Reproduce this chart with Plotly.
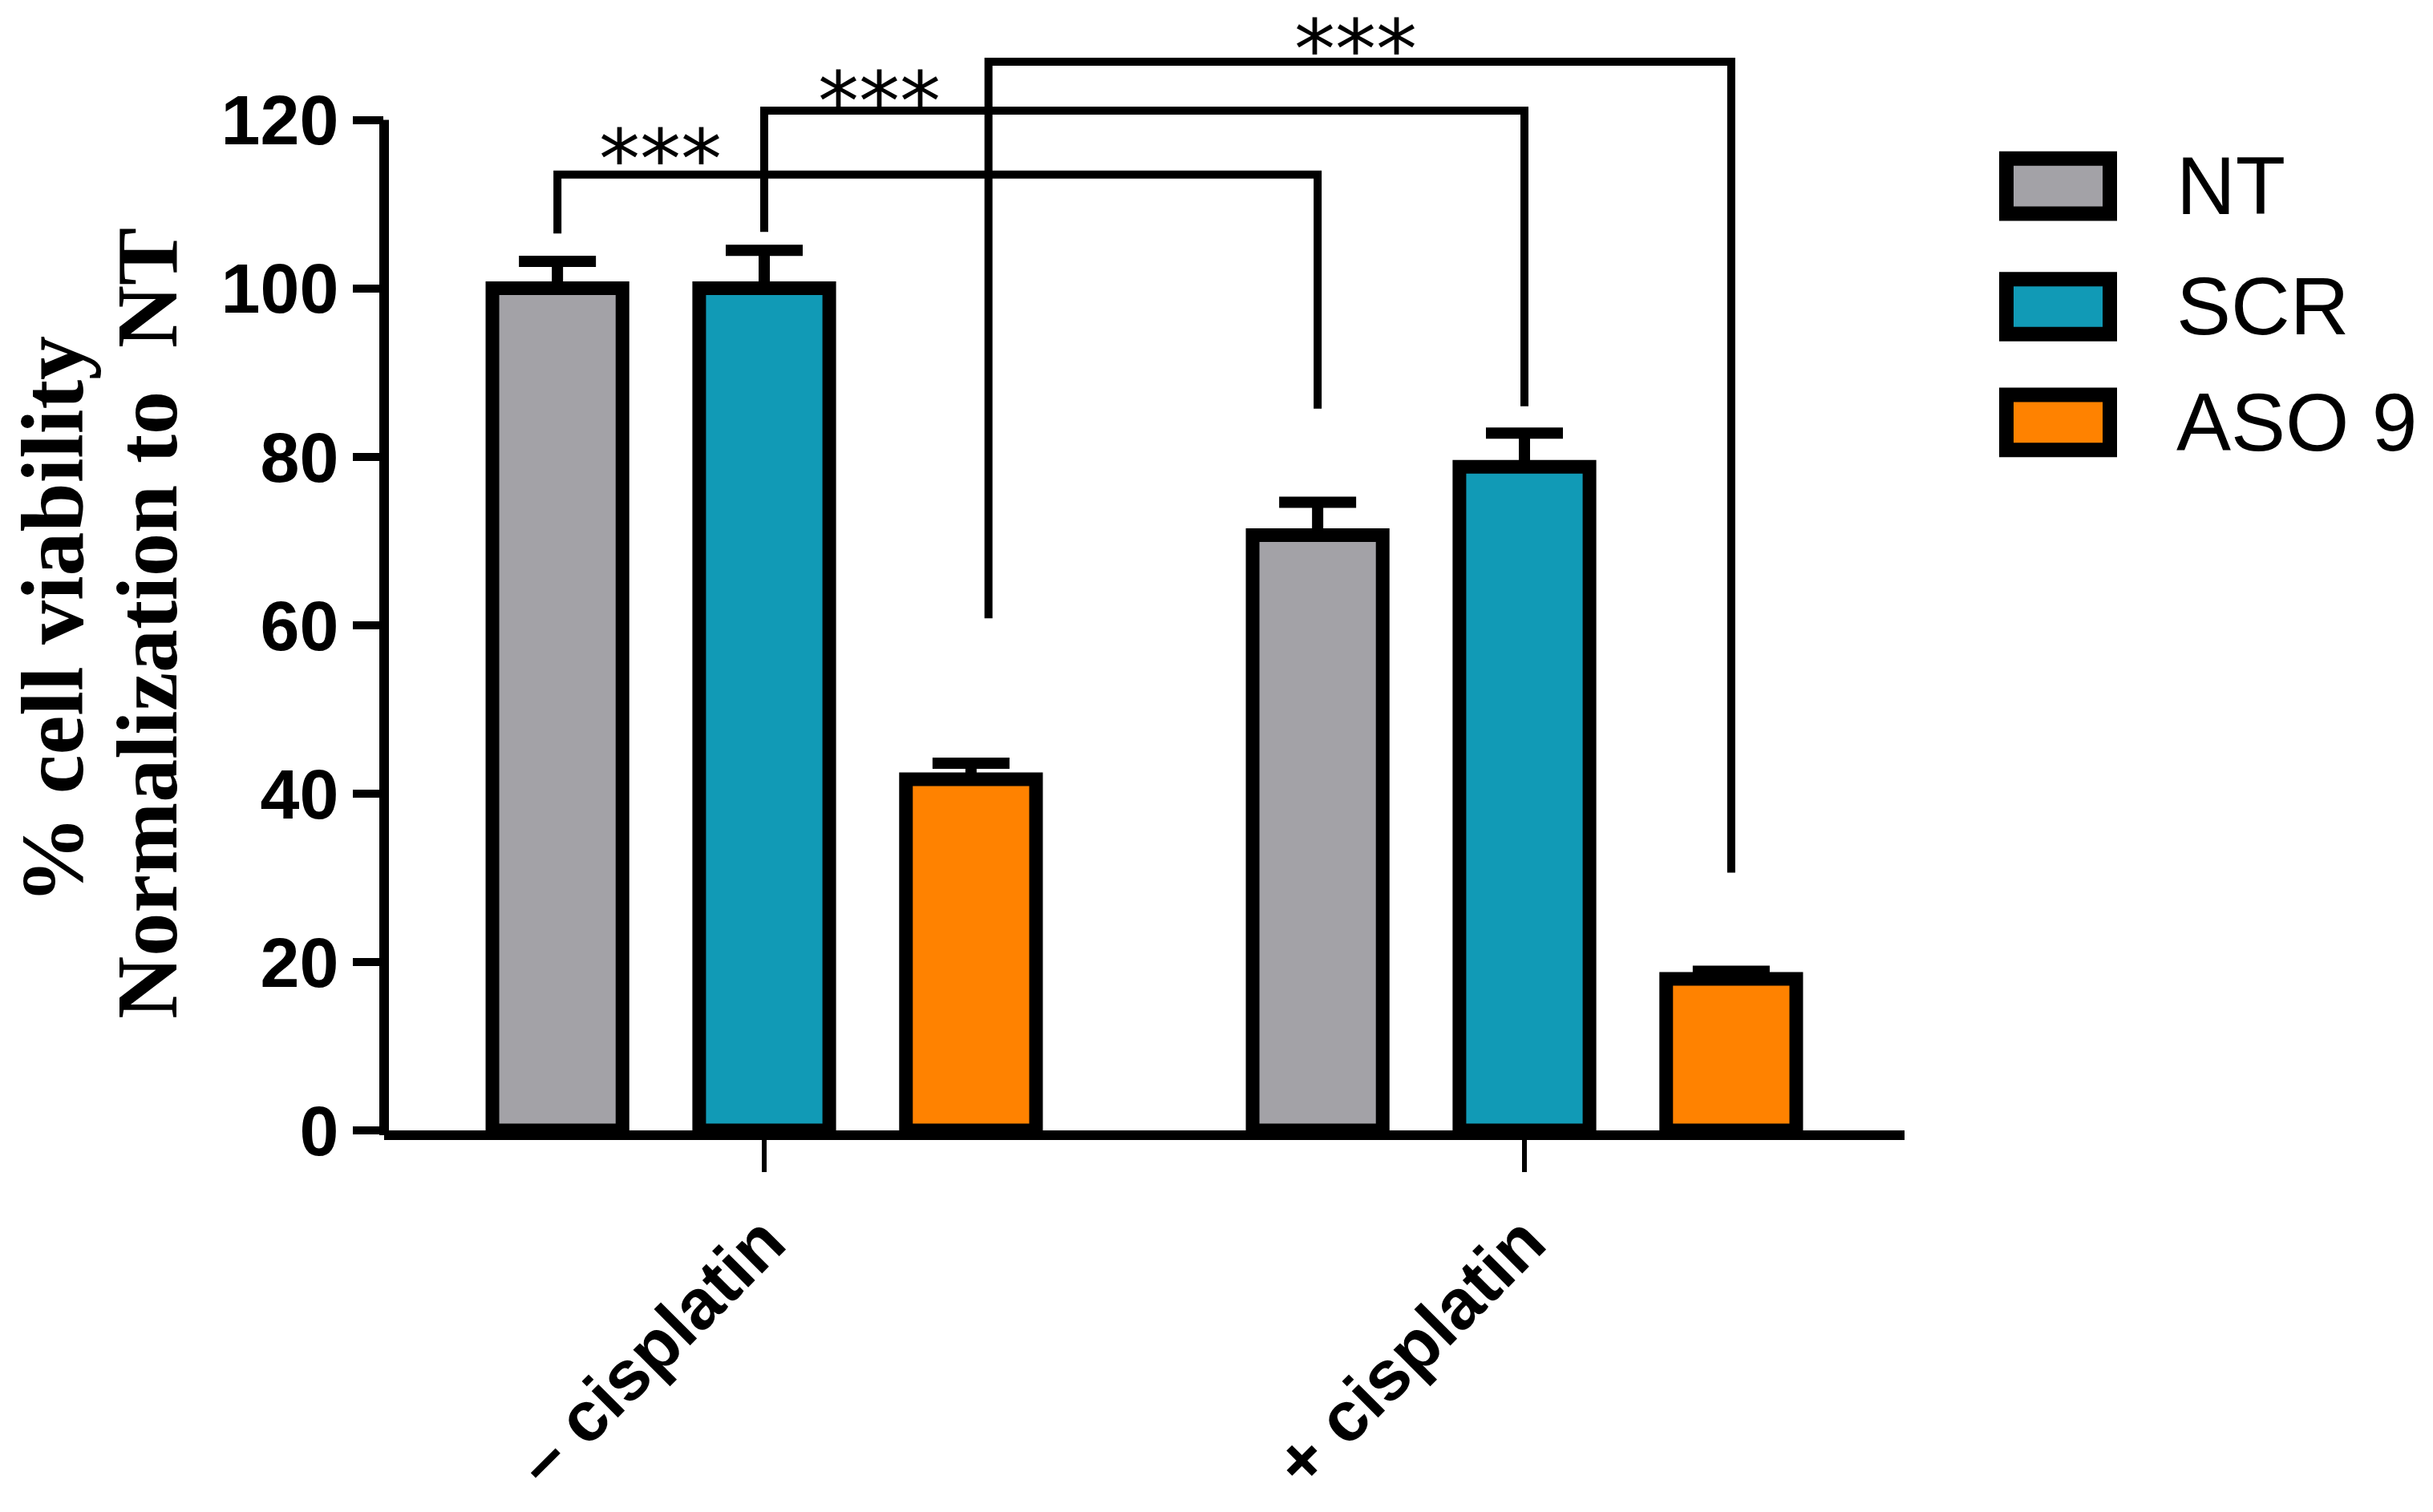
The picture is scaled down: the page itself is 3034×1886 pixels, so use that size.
import plotly.graph_objects as go

# ---------------- data ----------------
categories = ["– cisplatin", "+ cisplatin"]
series_names = ["NT", "SCR", "ASO 9"]
nt_values = [100.0, 70.7]
scr_values = [100.0, 78.8]
aso_values = [41.7, 18.0]
nt_err = [3.2, 3.9]
scr_err = [4.5, 4.0]
aso_err = [1.9, 0.9]
y_ticks = [0, 20, 40, 60, 80, 100, 120]

# significance brackets (compare each series between the two conditions)
bracket_series = [0, 1, 2]
bracket_levels = [113.5, 121.1, 126.9]
bracket_left_ends = [106.5, 106.7, 60.8]
bracket_right_ends = [85.7, 86.0, 30.6]
star_labels = ["***", "***", "***"]

# ---------------- style / geometry ----------------
colors = ["#A3A2A7", "#119AB6", "#FF8200"]
W, H = 3034, 1886
L, R, T, B = 479, 659, 34, 470
PW, PH = W - L - R, H - T - B
Y_MAX = 131
BARGAP, BARGROUPGAP = 0.184, 0.371
bracket_left_shift = [0.0, 0.0, 0.023]


def px_x(X):
    return (X - L) / PW


def px_y(Y):
    return (T + PH - Y) / PH


values = [nt_values, scr_values, aso_values]
errors = [nt_err, scr_err, aso_err]
xpos = list(range(len(categories)))

fig = go.Figure()
for name, vals, errs, col in zip(series_names, values, errors, colors):
    fig.add_trace(go.Bar(
        x=xpos, y=vals, name=name, showlegend=False,
        marker=dict(color=col, line=dict(color="black", width=17)),
        error_y=dict(type="data", symmetric=False, array=errs,
                     arrayminus=[0] * len(errs), color="black",
                     thickness=14, width=48),
    ))

# brackets drawn through the data axes
slot = (1 - BARGAP) / len(series_names)
for s, lvl, le, re_, sh in zip(bracket_series, bracket_levels,
                               bracket_left_ends, bracket_right_ends,
                               bracket_left_shift):
    xl = xpos[0] + (s - 1) * slot + sh
    xr = xpos[1] + (s - 1) * slot
    fig.add_trace(go.Scatter(
        x=[xl, xl, xr, xr], y=[le, lvl, lvl, re_], mode="lines",
        line=dict(color="black", width=10), showlegend=False,
        hoverinfo="skip",
    ))

annotations = []
star_x = [-0.137, 0.151, 0.778]
star_y = [115.3, 122.2, 128.4]
for sx, sy, lab in zip(star_x, star_y, star_labels):
    annotations.append(dict(
        x=sx, y=sy, xref="x", yref="y", text=lab, showarrow=False,
        xanchor="center", yanchor="middle",
        font=dict(family="DejaVu Sans", size=102, color="black"),
    ))

# y-axis title (two lines)
annotations.append(dict(
    x=px_x(66), y=px_y(777), xref="paper", yref="paper",
    text="<b>% cell viability</b>", textangle=-90, showarrow=False,
    xanchor="center", yanchor="middle",
    font=dict(family="Liberation Serif", size=110, color="black"),
))
annotations.append(dict(
    x=px_x(184), y=px_y(781), xref="paper", yref="paper",
    text="<b>Normalization to \u00a0NT</b>", textangle=-90, showarrow=False,
    xanchor="center", yanchor="middle",
    font=dict(family="Liberation Serif", size=108, color="black"),
))

# custom legend
shapes = []
legend_centers = [233, 384, 529]
for name, col, cy in zip(series_names, colors, legend_centers):
    shapes.append(dict(
        type="rect", xref="paper", yref="paper",
        x0=px_x(2502), x1=px_x(2631), y0=px_y(cy - 34.5), y1=px_y(cy + 34.5),
        fillcolor=col, line=dict(color="black", width=18),
    ))
    annotations.append(dict(
        x=px_x(2712), y=px_y(cy), xref="paper", yref="paper",
        text=name, showarrow=False, xanchor="left", yanchor="middle",
        font=dict(family="Liberation Sans", size=102, color="black"),
    ))

# y-axis spine from 0 to 120
shapes.append(dict(
    type="line", xref="paper", yref="paper", x0=0, x1=0,
    y0=-6 / PH, y1=y_ticks[-1] / Y_MAX,
    line=dict(color="black", width=12),
))

fig.update_layout(
    width=W, height=H, autosize=False,
    margin=dict(l=L, r=R, t=T, b=B, pad=0),
    paper_bgcolor="white", plot_bgcolor="white",
    barmode="group", bargap=BARGAP, bargroupgap=BARGROUPGAP,
    showlegend=False,
    annotations=annotations, shapes=shapes,
    xaxis=dict(
        range=[-0.5, 1.5], tickvals=xpos, ticktext=["<b>%s</b>" % c for c in categories],
        tickangle=-45, showline=True, linecolor="black", linewidth=12,
        ticks="outside", ticklen=40, tickwidth=6, tickcolor="black",
        showgrid=False, zeroline=False,
        tickfont=dict(family="Liberation Sans", size=88, color="black"),
    ),
    yaxis=dict(
        range=[0, Y_MAX], tickvals=y_ticks,
        ticktext=["<b>%d</b>" % v for v in y_ticks],
        showline=False, ticks="outside", ticklen=38, tickwidth=10,
        tickcolor="black", showgrid=False, zeroline=False,
        tickfont=dict(family="Liberation Sans", size=88, color="black"),
    ),
)

fig.write_html("out.html", config={"displayModeBar": False},
               post_script="document.body.style.margin='0';")
